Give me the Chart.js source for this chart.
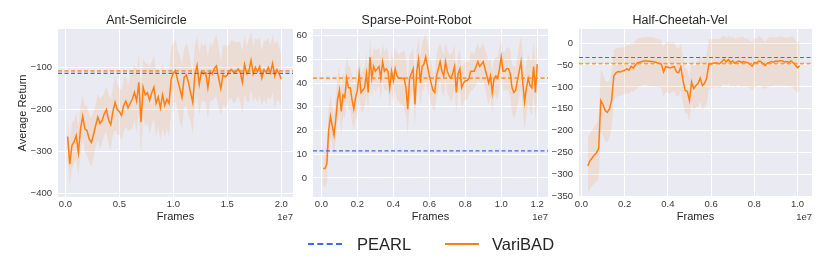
<!DOCTYPE html>
<html>
<head>
<meta charset="utf-8">
<script src="https://cdn.jsdelivr.net/npm/chart.js@4"></script>
<style>
  body { margin: 0; background: #fff; }
  #wrap { position: relative; width: 830px; height: 258px; overflow: hidden; font-family: "Liberation Sans", Arial, sans-serif; }
  canvas { position: absolute; top: 0; }
  .leg { position: absolute; top: 234px; font-size: 16.5px; color: #262626; line-height: 20px; }
  .swatch { position: absolute; top: 243px; width: 34px; height: 0; }
</style>
</head>
<body>
<div id="wrap">
  <canvas id="ant" width="300" height="230" style="left:0px"></canvas>
  <canvas id="spr" width="275" height="230" style="left:285px"></canvas>
  <canvas id="hcv" width="282" height="230" style="left:548px"></canvas>
  <div class="swatch" style="left:308px; border-top:2px dashed #3d6ae6;"></div>
  <div class="leg" style="left:357px">PEARL</div>
  <div class="swatch" style="left:445px; border-top:2.5px solid #ff7f0e;"></div>
  <div class="leg" style="left:492px">VariBAD</div>
</div>
<script>
// ---- data ----
// frames are logged at regular intervals (start, step) in env steps
const antStart = 0.02e7, antStep = 0.02e7;
const antMean = [
  -264, -330, -286, -277, -262, -302, -246, -216, -246, -250,
  -270, -278, -260, -238, -218, -233, -225, -210, -200, -225,
  -236, -205, -183, -200, -205, -214, -190, -180, -196, -185,
  -175, -159, -180, -135, -230, -147, -165, -160, -178, -160,
  -147, -185, -170, -196, -165, -190, -175, -185, -127, -113,
  -107, -130, -150, -171, -124, -118, -135, -160, -183, -117,
  -95, -140, -110, -115, -112, -148, -110, -115, -102, -96,
  -125, -150, -118, -122, -118, -108, -105, -112, -110, -103,
  -112, -135, -93, -115, -108, -83, -115, -100, -110, -98,
  -125, -105, -112, -100, -113, -90, -120, -105, -115, -127
];
const antSpread = [
  45, 55, 55, 50, 55, 60, 55, 50, 55, 60,
  55, 60, 55, 50, 55, 60, 55, 50, 55, 60,
  60, 55, 65, 60, 55, 60, 65, 60, 55, 65,
  70, 65, 75, 70, 80, 70, 75, 70, 80, 75,
  75, 80, 70, 75, 80, 75, 70, 80, 75, 70,
  75, 70, 80, 75, 70, 75, 80, 70, 75, 70,
  70, 75, 70, 65, 70, 75, 70, 65, 70, 75,
  70, 65, 70, 75, 70, 65, 70, 75, 70, 65,
  70, 75, 70, 65, 75, 70, 65, 70, 75, 70,
  65, 70, 75, 70, 65, 70, 75, 70, 65, 60
];
const antPearl = -114, antFinal = -108;
const antXTicks = [0, 0.5e7, 1.0e7, 1.5e7, 2.0e7];
const antYTicks = [-400, -300, -200, -100];

const sprStart = 0.01e7, sprStep = 0.01e7;
const sprMean = [
  4, 4, 6, 20, 26, 22, 18, 25, 33, 37,
  28, 35, 34, 42, 38, 38, 33, 29, 34, 37,
  44, 36, 37, 38, 44, 36, 51, 42, 47, 45,
  46, 47, 42, 49, 45, 46, 45, 38, 45, 41,
  46, 43, 42, 42, 42, 42, 38, 29, 42, 44,
  46, 31, 45, 50, 40, 47, 48, 51, 47, 43,
  40, 37, 36, 43, 46, 49, 45, 43, 49, 45,
  43, 42, 44, 47, 36, 44, 46, 38, 40, 41,
  41, 42, 45, 45, 45, 47, 49, 47, 48, 49,
  46, 43, 40, 43, 36, 42, 43, 42, 46, 51,
  45, 45, 46, 46, 44, 38, 36, 37, 41, 45,
  49, 40, 32, 38, 42, 39, 38, 47, 36, 48
];
const sprSpread = [
  7, 8, 8, 9, 9, 8, 8, 9, 10, 10,
  10, 9, 9, 10, 9, 9, 10, 9, 9, 10,
  9, 8, 9, 8, 9, 8, 9, 8, 8, 9,
  8, 8, 9, 8, 8, 9, 8, 9, 8, 9,
  9, 10, 10, 11, 11, 12, 12, 11, 10, 9,
  9, 10, 9, 9, 10, 10, 11, 10, 10, 9,
  9, 8, 8, 9, 9, 8, 9, 9, 8, 9,
  9, 10, 10, 9, 9, 8, 8, 9, 8, 8,
  8, 7, 8, 8, 7, 8, 8, 7, 8, 8,
  8, 9, 9, 8, 9, 8, 8, 9, 9, 8,
  8, 8, 9, 9, 10, 10, 11, 10, 10, 11,
  11, 12, 12, 11, 10, 11, 12, 11, 12, 12
];
const sprPearl = 11.4, sprFinal = 42.1;
const sprXTicks = [0, 0.2e7, 0.4e7, 0.6e7, 0.8e7, 1.0e7, 1.2e7];
const sprYTicks = [0, 10, 20, 30, 40, 50, 60];

const hcvStart = 0.03e7, hcvStep = 0.01e7;
const hcvMean = [
  -280, -268, -262, -255, -250, -240, -131, -140, -154, -158,
  -150, -130, -75, -68, -65, -66, -64, -62, -59, -62,
  -53, -57, -50, -45, -44, -42, -41, -41, -41, -42,
  -42, -43, -45, -46, -48, -66, -54, -55, -57, -55,
  -54, -66, -68, -54, -85, -108, -110, -131, -89, -104,
  -97, -92, -80, -97, -92, -80, -47, -48, -46, -45,
  -46, -47, -42, -37, -43, -38, -44, -41, -46, -43,
  -41, -44, -42, -44, -45, -48, -53, -44, -46, -41,
  -42, -47, -51, -46, -44, -42, -43, -41, -42, -40,
  -41, -43, -42, -44, -41, -45, -50, -56, -52
];
const hcvSpread = [
  62, 63, 64, 65, 66, 68, 70, 70, 70, 68,
  66, 62, 58, 56, 55, 55, 54, 54, 55, 55,
  55, 55, 56, 56, 55, 55, 54, 55, 55, 56,
  56, 55, 55, 54, 55, 56, 57, 58, 58, 56,
  56, 55, 55, 54, 53, 52, 50, 48, 48, 50,
  50, 52, 54, 55, 56, 57, 57, 56, 55, 55,
  55, 56, 56, 55, 54, 55, 56, 56, 55, 54,
  55, 56, 56, 55, 55, 54, 55, 56, 55, 56,
  56, 55, 54, 55, 56, 56, 55, 54, 55, 56,
  56, 55, 55, 56, 57, 58, 58, 58, 57
];
const hcvPearl = -33, hcvFinal = -47;
const hcvXTicks = [0, 0.2e7, 0.4e7, 0.6e7, 0.8e7, 1.0e7];
const hcvYTicks = [-350, -300, -250, -200, -150, -100, -50, 0];

// ---- styling ----
const FONT = '"Liberation Sans", Arial, sans-serif';
const ORANGE = '#ff7f0e';
const ORANGE_DASH = 'rgba(255,135,30,0.8)';
const BLUE = '#3d6ae6';
const BAND = 'rgba(255,127,14,0.12)';
const TICK = '#3a3a3a';

function fmtY(v) {
  return v < 0 ? '\u2212' + Math.abs(v) : String(v);
}

const darkgrid = {
  id: 'darkgrid',
  beforeDraw(chart) {
    const a = chart.chartArea, ctx = chart.ctx;
    ctx.save();
    ctx.fillStyle = '#eaeaf2';
    ctx.fillRect(a.left, a.top, a.right - a.left, a.bottom - a.top);
    ctx.restore();
  },
  afterDraw(chart) {
    // matplotlib style offset text under the x axis
    const a = chart.chartArea, ctx = chart.ctx;
    ctx.save();
    ctx.font = '9.5px ' + FONT;
    ctx.fillStyle = TICK;
    ctx.textAlign = 'right';
    ctx.textBaseline = 'middle';
    ctx.fillText('1e7', a.right, 217);
    ctx.restore();
  }
};

function makePanel(id, p) {
  const pts = p.mean.map((v, i) => ({ x: p.start + i * p.step, y: v }));
  const lo = p.mean.map((v, i) => ({ x: p.start + i * p.step, y: v - p.spread[i] }));
  const hi = p.mean.map((v, i) => ({ x: p.start + i * p.step, y: v + p.spread[i] }));
  const hline = v => [{ x: p.xmin, y: v }, { x: p.xmax, y: v }];

  new Chart(document.getElementById(id), {
    type: 'line',
    data: {
      datasets: [
        { data: lo, borderWidth: 0, pointRadius: 0, fill: false },
        { data: hi, borderWidth: 0, pointRadius: 0, fill: '-1', backgroundColor: BAND },
        { data: hline(p.pearl), borderColor: BLUE, borderWidth: 1.2, borderDash: [4, 2.5], pointRadius: 0 },
        { data: hline(p.final), borderColor: ORANGE_DASH, borderWidth: 1.7, borderDash: [4, 2.5], pointRadius: 0 },
        { data: pts, borderColor: ORANGE, borderWidth: 1.5, pointRadius: 0, tension: 0 }
      ]
    },
    options: {
      responsive: false,
      animation: false,
      layout: { padding: { left: 0, right: p.padRight, top: 0, bottom: 0 } },
      plugins: {
        legend: { display: false },
        tooltip: { enabled: false },
        title: {
          display: true, text: p.title, color: '#262626',
          font: { family: FONT, size: 12.5, weight: 'normal' },
          padding: { top: 13, bottom: 1 }
        }
      },
      scales: {
        x: {
          type: 'linear', min: p.xmin, max: p.xmax,
          afterFit: s => { s.height = 33; },
          afterBuildTicks: s => { s.ticks = p.xTicks.map(v => ({ value: v })); },
          grid: { color: '#ffffff', lineWidth: 1, drawTicks: false },
          border: { display: false },
          ticks: {
            padding: 2, color: TICK, maxRotation: 0, autoSkip: false,
            font: { family: FONT, size: 9.5 },
            callback: v => (v / 1e7).toFixed(1)
          },
          title: {
            display: true, text: 'Frames', color: '#262626',
            font: { family: FONT, size: 11 }, padding: { top: 0, bottom: 6 }
          }
        },
        y: {
          min: p.ymin, max: p.ymax,
          afterFit: s => { s.width = p.yWidth; },
          afterBuildTicks: s => { s.ticks = p.yTicks.map(v => ({ value: v })); },
          grid: { color: '#ffffff', lineWidth: 1, drawTicks: false },
          border: { display: false },
          ticks: {
            padding: 6, color: TICK, autoSkip: false,
            font: { family: FONT, size: 9.5 },
            callback: v => fmtY(v)
          },
          title: {
            display: !!p.yTitle, text: p.yTitle || '', color: '#262626',
            font: { family: FONT, size: 11 }, padding: { top: 16, bottom: 0 }
          }
        }
      }
    },
    plugins: [darkgrid]
  });
}

makePanel('ant', {
  title: 'Ant-Semicircle', yTitle: 'Average Return',
  start: antStart, step: antStep, mean: antMean, spread: antSpread,
  pearl: antPearl, final: antFinal, xTicks: antXTicks, yTicks: antYTicks,
  xmin: -0.069e7, xmax: 2.109e7, ymin: -408, ymax: -8.4,
  yWidth: 58, padRight: 7
});
makePanel('spr', {
  title: 'Sparse-Point-Robot',
  start: sprStart, step: sprStep, mean: sprMean, spread: sprSpread,
  pearl: sprPearl, final: sprFinal, xTicks: sprXTicks, yTicks: sprYTicks,
  xmin: -0.047e7, xmax: 1.26e7, ymin: -8.05, ymax: 62.8,
  yWidth: 28, padRight: 12
});
makePanel('hcv', {
  title: 'Half-Cheetah-Vel',
  start: hcvStart, step: hcvStep, mean: hcvMean, spread: hcvSpread,
  pearl: hcvPearl, final: hcvFinal, xTicks: hcvXTicks, yTicks: hcvYTicks,
  xmin: -0.011e7, xmax: 1.067e7, ymin: -351, ymax: 32,
  yWidth: 31, padRight: 18
});
</script>
</body>
</html>
